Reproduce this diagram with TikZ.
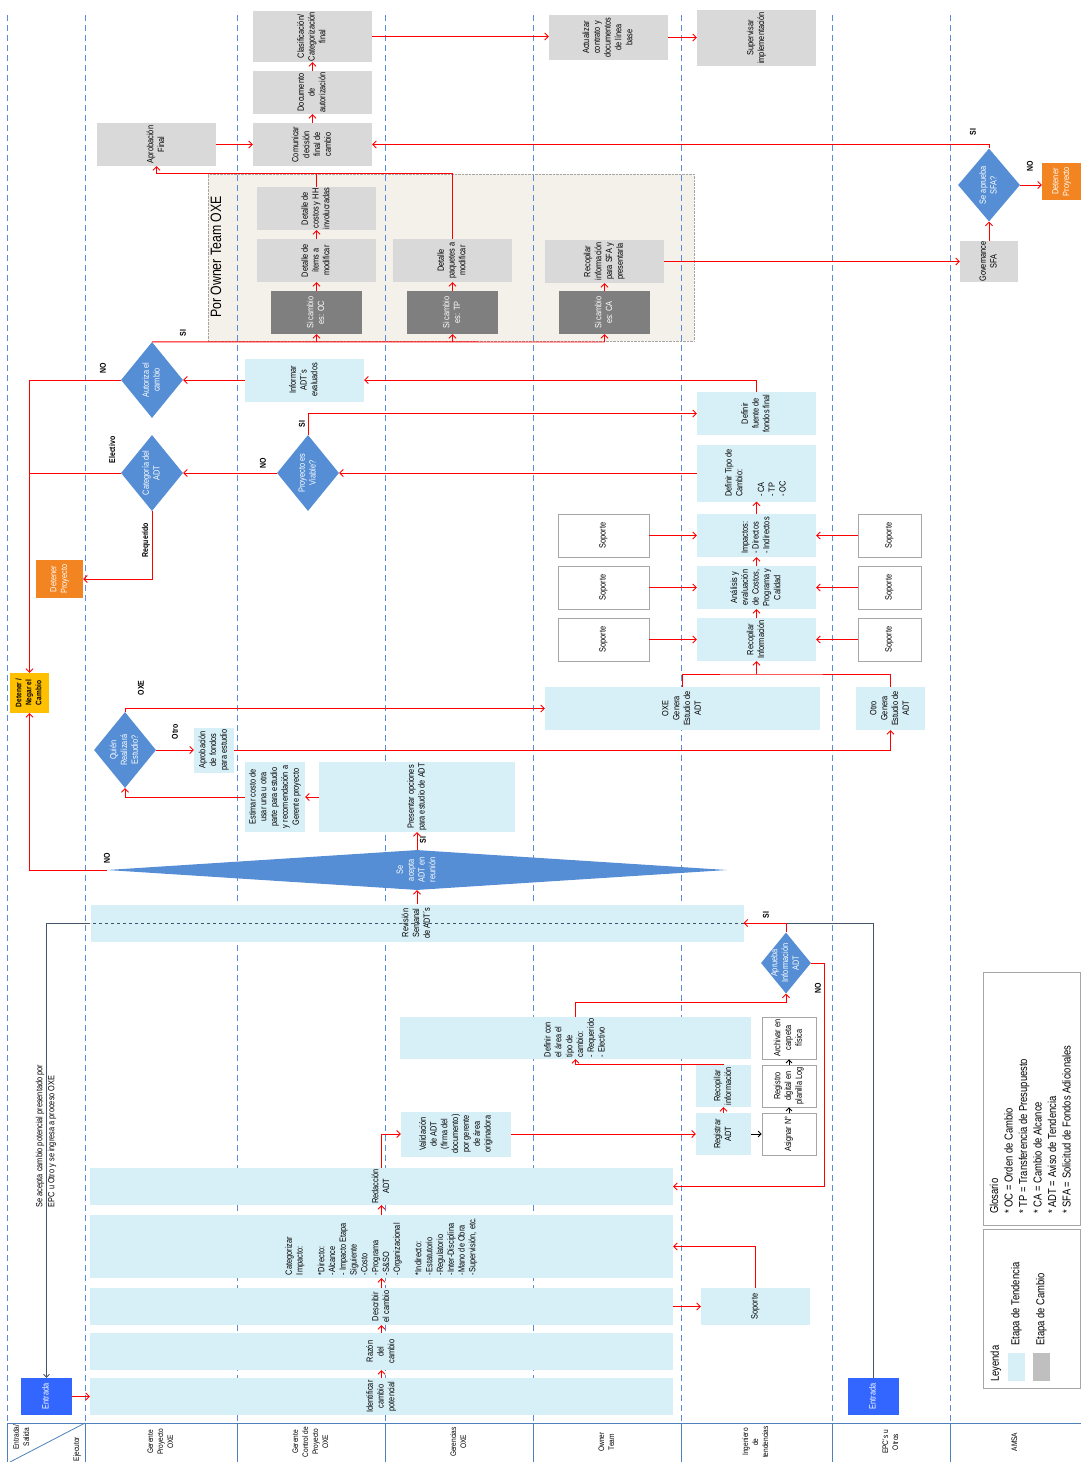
\documentclass[tikz,border=0pt]{standalone}
\usepackage{fontspec}
\setmainfont{Liberation Sans}[FakeStretch=0.82]
\usepackage{graphicx}
\usepackage{xcolor}
\usepackage{tikz}
\usetikzlibrary{shapes.geometric,arrows.meta}

\definecolor{ctend}{RGB}{215,239,246}
\definecolor{ccamb}{RGB}{217,217,217}
\definecolor{coscuro}{RGB}{127,127,127}
\definecolor{crombo}{RGB}{85,142,213}
\definecolor{cnaranja}{RGB}{242,133,34}
\definecolor{camarillo}{RGB}{255,192,0}
\definecolor{centrada}{RGB}{51,102,255}
\definecolor{ccarril}{RGB}{90,140,220}
\definecolor{ccabecera}{RGB}{79,129,189}
\definecolor{cbeige}{RGB}{244,240,234}
\definecolor{cborde}{RGB}{166,166,166}
\definecolor{cleyg}{RGB}{191,191,191}
\definecolor{cpizarra}{RGB}{68,84,106}

\newcommand{\vt}[2][c]{\rotatebox{90}{\begin{tabular}{@{}#1@{}}#2\end{tabular}}}

\begin{document}
\begin{tikzpicture}[x=1pt,y=-1pt,
  caja/.style={inner sep=0pt, minimum width=119pt, minimum height=43pt, font=\fontsize{9}{10.8}\selectfont},
  tend/.style={caja, fill=ctend},
  camb/.style={caja, fill=ccamb},
  oscuro/.style={caja, fill=coscuro, text=white, minimum width=91pt},
  soporte/.style={caja, fill=white, draw=cborde, line width=0.8pt, minimum width=91pt},
  rombo/.style={diamond, fill=crombo, inner sep=0pt, minimum width=62pt, minimum height=76pt},
  rtxt/.style={text=white, inner sep=0pt, font=\fontsize{9}{10.8}\selectfont},
  alto/.style={caja, text=white, minimum width=39pt, minimum height=37pt},
  etq/.style={inner sep=0pt, rotate=90, font=\fontsize{8.5}{10}\selectfont\bfseries},
  cab/.style={inner sep=0pt, font=\fontsize{8}{10}\selectfont},
  ley/.style={inner sep=0pt, font=\fontsize{11.5}{14.5}\selectfont},
  flecha/.style={draw=red, line width=0.9pt, -{Straight Barb[length=3.5pt,width=7pt]}},
  linea/.style={draw=red, line width=0.9pt},
  negra/.style={draw=black, line width=0.8pt, -{Straight Barb[length=3pt,width=6pt]}},
  gris/.style={draw=cpizarra, line width=0.8pt}]

  \useasboundingbox (0,0) rectangle (1081,1462);

  \node[draw=cborde, densely dotted, fill=cbeige, inner sep=0pt, minimum width=486pt, minimum height=167pt] (owner) at (451,257.5) {};
  \node[inner sep=0pt, font=\fontsize{15}{18}\selectfont] (ownert) at (216,257) {\rotatebox{90}{Por Owner Team OXE}};

  \foreach \x in {7,85,237,385,533,681,832,950}
    \draw[ccarril, line width=0.9pt, dash pattern=on 6pt off 4pt] (\x,15) -- (\x,1422);

  \draw[ccabecera, line width=0.8pt] (7,1423) -- (1081,1423);
  \foreach \x in {7,85,237,385,533,681,832,950}
    \draw[ccabecera, line width=0.8pt] (\x,1423) -- (\x,1462);
  \draw[ccabecera, line width=0.8pt] (10,1462) -- (85,1423);
  \node[cab] (h0a) at (22,1437) {\vt{Entrada/\\Salida}};
  \node[cab] (h0b) at (77,1449) {\vt{Ejecutor}};
  \node[cab] (h1) at (161,1442) {\vt{Gerente\\Proyecto\\OXE}};
  \node[cab] (h2) at (311,1442) {\vt{Gerente\\Control de\\Proyecto\\OXE}};
  \node[cab] (h3) at (459,1442) {\vt{Gerencias\\OXE}};
  \node[cab] (h4) at (607,1442) {\vt{Owner\\Team}};
  \node[cab] (h5) at (756,1442) {\vt{Ingeniero\\de\\tendencias}};
  \node[cab] (h6) at (891,1442) {\vt{EPC's u\\Otros}};
  \node[cab] (h7) at (1015,1442) {\vt{AMSA}};

  \node[camb, minimum height=51pt] (clasif) at (312.5,36.5) {\vt{Clasificación/\\Categorización\\final}};
  \node[camb] (docaut) at (312.5,92.5) {\vt{Documento\\de\\autorización}};
  \node[camb] (comunic) at (312.5,144.5) {\vt{Comunicar\\decisión\\final de\\cambio}};
  \node[camb] (aprobfin) at (156.5,144.5) {\vt{Aprobación\\Final}};
  \node[camb, minimum height=45pt] (actualiz) at (608.5,37.5) {\vt{Actualizar\\contrato y\\documentos\\de línea\\base}};
  \node[camb, minimum height=56pt] (superv) at (756.5,38) {\vt{Supervisar\\implementación}};
  \node[camb] (costos) at (316.5,208.5) {\vt{Detalle de\\costos y HH\\involucradas}};
  \node[camb] (items) at (316.5,260.5) {\vt{Detalle de\\ítems a\\modificar}};
  \node[camb] (paquetes) at (452.5,260.5) {\vt{Detalle\\paquetes a\\modificar}};
  \node[camb] (recsfa) at (604.5,261.5) {\vt{Recopilar\\información\\para SFA y\\presentarla}};
  \node[camb, minimum width=58pt, minimum height=41pt] (govern) at (989,261.5) {\vt{Governance\\SFA}};

  \node[oscuro] (sioc) at (316.5,312.5) {\vt{Si cambio\\es: OC}};
  \node[oscuro] (sitp) at (452.5,312.5) {\vt{Si cambio\\es: TP}};
  \node[oscuro] (sica) at (604.5,312.5) {\vt{Si cambio\\es: CA}};

  \node[rombo, minimum height=73pt] (sfa) at (989,185) {};
  \node[rtxt] (sfat) at (sfa) {\vt{Se aprueba\\SFA?}};
  \node[rombo] (autoriza) at (152,380) {};
  \node[rtxt] (autorizat) at (autoriza) {\vt{Autoriza el\\cambio}};
  \node[rombo] (viable) at (308,473) {};
  \node[rtxt] (viablet) at (viable) {\vt{Proyecto es\\Viable?}};
  \node[rombo] (categoria) at (152,473) {};
  \node[rtxt] (categoriat) at (categoria) {\vt{Categoría del\\ADT}};
  \node[rombo] (quien) at (125,750) {};
  \node[rtxt] (quient) at (quien) {\vt{Quién\\Realizará\\Estudio?}};
  \node[rombo, minimum width=620pt, minimum height=40pt] (acepta) at (417,870) {};
  \node[rtxt] (aceptat) at (acepta) {\vt{Se\\acepta\\ADT en\\reunión}};
  \node[rombo, minimum width=50pt, minimum height=61pt] (aprueba) at (786,963) {};
  \node[rtxt] (apruebat) at (aprueba) {\vt{Aprueba\\Información\\ADT}};

  \node[alto, fill=cnaranja] (det1) at (1061.5,181.5) {\vt{Detener\\Proyecto}};
  \node[alto, fill=cnaranja, minimum width=47pt, minimum height=38pt] (det2) at (59.5,579) {\vt{Detener\\Proyecto}};
  \node[alto, fill=camarillo, text=black, minimum height=40pt, font=\fontsize{8}{10}\selectfont\bfseries] (negar) at (29.5,693) {\vt{Detener /\\Negar el\\Cambio}};

  \node[tend] (informar) at (304.5,380) {\vt{Informar\\ADT´s\\evaluados}};
  \node[tend] (fondos) at (756.5,413.5) {\vt{Definir\\fuente de\\fondos final}};
  \node[tend, minimum height=57pt] (tipo) at (756.5,473) {\vt[l]{Definir Tipo de\\Cambio:\\ \\- CA\\- TP\\- OC}};
  \node[tend] (impactos) at (756.5,535.5) {\vt[l]{Impactos:\\- Directos\\- Indirectos}};
  \node[tend] (analisis) at (756.5,587.5) {\vt{Análisis y\\evaluación\\de Costos,\\Programa y\\Calidad}};
  \node[tend] (recinfo) at (756.5,639.5) {\vt{Recopilar\\Información}};
  \node[soporte] (sopl1) at (603.5,535.5) {\vt{Soporte}};
  \node[soporte] (sopl2) at (603.5,587.5) {\vt{Soporte}};
  \node[soporte] (sopl3) at (603.5,639.5) {\vt{Soporte}};
  \node[soporte, minimum width=63pt] (sopr1) at (889.5,535.5) {\vt{Soporte}};
  \node[soporte, minimum width=63pt] (sopr2) at (889.5,587.5) {\vt{Soporte}};
  \node[soporte, minimum width=63pt] (sopr3) at (889.5,639.5) {\vt{Soporte}};

  \node[tend, minimum width=275pt] (oxegen) at (682.5,708.5) {\vt{OXE\\Genera\\Estudio de\\ADT}};
  \node[tend, minimum width=69pt] (otrogen) at (890.5,708.5) {\vt{Otro\\Genera\\Estudio de\\ADT}};
  \node[tend, minimum width=40pt, minimum height=45pt] (aprobfon) at (214,750) {\vt{Aprobación\\de fondos\\para estudio}};
  \node[tend, minimum width=60pt, minimum height=70pt] (estimar) at (275,797) {\vt{Estimar costo de\\usar una u otra\\parte para estudio\\y recomendación a\\Gerente proyecto}};
  \node[tend, minimum width=196pt, minimum height=70pt] (presentar) at (417,797) {\vt{Presentar opciones\\para estudio de ADT}};
  \node[tend, minimum width=653pt, minimum height=37pt] (revision) at (417,923) {\vt{Revisión\\Semanal\\de ADT´s}};

  \node[tend, minimum width=351pt, minimum height=42pt] (defarea) at (575.5,1038) {\vt[l]{Definir con\\el área el\\tipo de\\cambio:\\- Requerido\\- Electivo}};
  \node[tend, minimum width=110pt, minimum height=45pt] (validac) at (456,1134) {\vt{Validación\\de ADT\\(firma del\\documento)\\por gerente\\de área\\originadora}};
  \node[tend, minimum width=55pt, minimum height=42pt] (registrar) at (723.5,1134) {\vt{Registrar\\ADT}};
  \node[tend, minimum width=55pt, minimum height=42pt] (recinfo2) at (723.5,1086) {\vt{Recopilar\\información}};
  \node[soporte, minimum width=54pt, minimum height=42pt] (asignar) at (789,1134) {\vt{Asignar N°}};
  \node[soporte, minimum width=54pt, minimum height=42pt] (registro) at (789,1086) {\vt{Registro\\digital en\\planilla Log}};
  \node[soporte, minimum width=54pt, minimum height=42pt] (archivar) at (789,1038) {\vt{Archivar en\\carpeta\\física}};

  \node[tend, minimum width=583pt, minimum height=37pt] (identif) at (381.5,1396.5) {\vt{Identificar\\cambio\\potencial}};
  \node[tend, minimum width=583pt, minimum height=37pt] (razon) at (381.5,1351.5) {\vt{Razón\\del\\cambio}};
  \node[tend, minimum width=583pt, minimum height=37pt] (describir) at (381.5,1306.5) {\vt{Describir\\el cambio}};
  \node[tend, minimum width=583pt, minimum height=63pt] (categ) at (381.5,1246.5) {\vt[l]{Categorizar\\Impacto:\\ \\{*}Directo:\\-Alcance\\- Impacto Etapa\\Siguiente\\-Costo\\-Programa\\-S\&SO\\-Organizacional\\ \\{*}Indirecto:\\-Estatutorio\\-Regulatorio\\-Inter-Disciplina\\-Mano de Obra\\-Supervisión, etc.}};
  \node[tend, minimum width=583pt, minimum height=37pt] (redacc) at (381.5,1186.5) {\vt{Redacción\\ADT}};
  \node[tend, minimum width=109pt, minimum height=37pt] (soporte5) at (755.5,1306.5) {\vt{Soporte}};

  \node[alto, fill=centrada, minimum width=51pt] (entr1) at (46.5,1396.5) {\vt{Entrada}};
  \node[alto, fill=centrada, minimum width=51pt] (entr2) at (873.5,1396.5) {\vt{Entrada}};
  \node[inner sep=0pt, font=\fontsize{9}{12}\selectfont] (nota) at (46,1136) {\vt[l]{Se acepta cambio potencial presentado por\\EPC u Otro y se ingresa a proceso OXE}};

  \node[draw=cborde, line width=0.8pt, inner sep=0pt, minimum width=97pt, minimum height=253pt] (glosario) at (1031.5,1098.5) {};
  \node[ley, anchor=south] (glosariot) at (1031.5,1214) {\vt[l]{Glosario\\{*} OC = Orden de Cambio\\{*} TP = Transferencia de Presupuesto\\{*} CA = Cambio de Alcance\\{*} ADT = Aviso de Tendencia\\{*} SFA = Solicitud de Fondos Adicionales}};
  \node[draw=cborde, line width=0.8pt, inner sep=0pt, minimum width=97pt, minimum height=159pt] (leyenda) at (1031.5,1308.5) {};
  \node[ley, anchor=south] (leyendat) at (996,1382) {\rotatebox{90}{Leyenda}};
  \node[fill=ctend, inner sep=0pt, minimum width=17pt, minimum height=28pt] (sw1) at (1016.5,1367) {};
  \node[ley, anchor=south] (sw1t) at (1016.5,1346) {\rotatebox{90}{Etapa de Tendencia}};
  \node[fill=cleyg, inner sep=0pt, minimum width=17pt, minimum height=28pt] (sw2) at (1041.5,1367) {};
  \node[ley, anchor=south] (sw2t) at (1041.5,1346) {\rotatebox{90}{Etapa de Cambio}};

  \node[etq] (l1) at (973,132) {SI};
  \node[etq] (l2) at (1030,166) {NO};
  \node[etq] (l3) at (183,333) {SI};
  \node[etq] (l4) at (103,368) {NO};
  \node[etq] (l5) at (112,450) {Electivo};
  \node[etq] (l6) at (146,540) {Requerido};
  \node[etq] (l7) at (302,424) {SI};
  \node[etq] (l8) at (263,463) {NO};
  \node[etq] (l9) at (141,688) {OXE};
  \node[etq] (l10) at (175,732) {Otro};
  \node[etq] (l11) at (107,858) {NO};
  \node[etq] (l12) at (423,840) {SI};
  \node[etq] (l13) at (766,915) {SI};
  \node[etq] (l14) at (818,988) {NO};

  \draw[gris] (entr2.north) |- (revision.east);
  \draw[gris, dashed] (revision.east) -- (revision.west);
  \draw[gris, -{Straight Barb[length=3pt,width=6pt]}] (revision.west) -| (entr1.north);

  \draw[flecha] (aprobfin.east) -- (comunic.west);
  \draw[flecha] (comunic.north) -- (docaut.south);
  \draw[flecha] (docaut.north) -- (clasif.south);
  \draw[flecha] (clasif.east) -- (clasif.east -| actualiz.west);
  \draw[flecha] (actualiz.east) -- (actualiz.east -| superv.west);
  \draw[flecha] (sfa.north) |- (comunic.east);
  \draw[flecha] (sfa.east) -- (sfa.east -| det1.west);
  \draw[flecha] (govern.north) -- (sfa.south);
  \draw[flecha] (recsfa.east) -- (recsfa.east -| govern.west);
  \coordinate (arriba) at (452.5,173);
  \draw[linea] (costos.north) -- (costos.north |- arriba);
  \draw[flecha] (paquetes.north) -- (arriba) -| (aprobfin.south);
  \coordinate (bus) at (604.5,342);
  \draw[linea] (autoriza.north) -- (bus);
  \foreach \n in {sioc,sitp,sica}
    \draw[flecha] (\n.south |- bus) -- (\n.south);
  \draw[flecha] (sioc.north) -- (items.south);
  \draw[flecha] (items.north) -- (costos.south);
  \draw[flecha] (sitp.north) -- (paquetes.south);
  \draw[flecha] (sica.north) -- (recsfa.south);

  \draw[flecha] (autoriza.west) -| (negar.north);
  \draw[flecha] (informar.west) -- (autoriza.east);
  \draw[flecha] (fondos.north) |- (informar.east);
  \draw[flecha] (tipo.west) -- (viable.east);
  \draw[flecha] (viable.north) |- (fondos.west);
  \draw[flecha] (viable.west) -- (categoria.east);
  \draw[linea] (categoria.west) -- (categoria.west -| negar.north);
  \draw[flecha] (categoria.south) |- (det2.east);
  \draw[flecha] (recinfo.north) -- (analisis.south);
  \draw[flecha] (analisis.north) -- (impactos.south);
  \draw[flecha] (impactos.north) -- (tipo.south);
  \foreach \i/\n in {1/impactos,2/analisis,3/recinfo} {
    \draw[flecha] (sopl\i.east) -- (\n.west);
    \draw[flecha] (sopr\i.west) -- (\n.east);
  }
  \coordinate (union) at (756.5,674);
  \draw[linea] (oxegen.north) |- (union) -| (otrogen.north);
  \draw[flecha] (union) -- (recinfo.south);
  \draw[flecha] (quien.north) |- (oxegen.west);
  \draw[flecha] (quien.east) -- (aprobfon.west);
  \draw[flecha] (aprobfon.east) -| (otrogen.south);
  \draw[flecha] (estimar.west) -| (quien.south);
  \draw[flecha] (presentar.west) -- (estimar.east);
  \draw[flecha] (acepta.north) -- (presentar.south);
  \draw[flecha] (acepta.west) -| (negar.south);
  \draw[flecha] (revision.north) -- (acepta.south);

  \draw[flecha] (entr1.east) -- (identif.west);
  \draw[flecha] (identif.north) -- (razon.south);
  \draw[flecha] (razon.north) -- (describir.south);
  \draw[flecha] (describir.north) -- (categ.south);
  \draw[flecha] (categ.north) -- (redacc.south);
  \draw[flecha] (describir.east) -- (soporte5.west);
  \draw[flecha] (soporte5.north) |- (categ.east);
  \draw[flecha] (redacc.north) |- (validac.west);
  \draw[flecha] (validac.east) -- (registrar.west);
  \draw[flecha] (registrar.north) -- (recinfo2.south);
  \draw[flecha] (recinfo2.north) -| (defarea.south);
  \draw[flecha] (defarea.north) -- ++(0,-14) -| (aprueba.south);
  \draw[flecha] (aprueba.north) |- (revision.east);
  \draw[flecha] (aprueba.east) -- ++(13,0) |- (redacc.east);
  \draw[negra] (registrar.east) -- (asignar.west);
  \draw[negra] (asignar.north) -- (registro.south);
  \draw[negra] (registro.north) -- (archivar.south);
\end{tikzpicture}
\end{document}
